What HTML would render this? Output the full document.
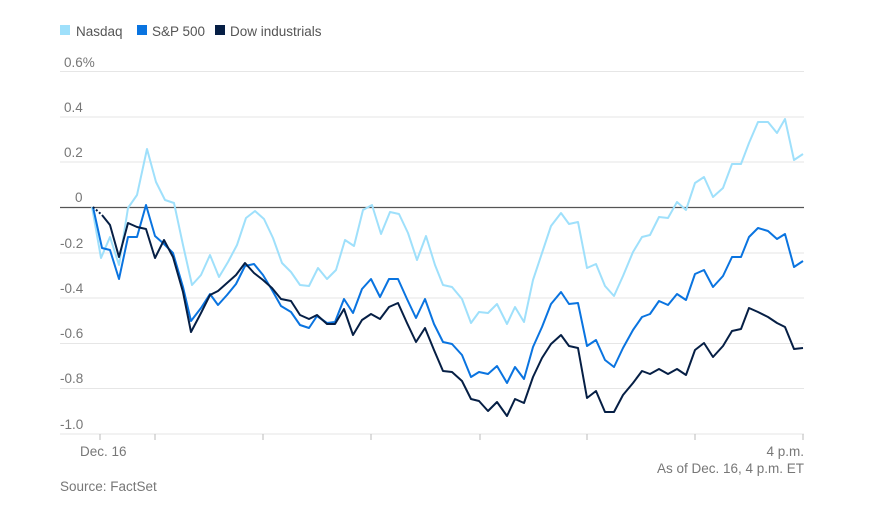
<!DOCTYPE html>
<html><head><style>
body{margin:0;background:#fff;font-family:"Liberation Sans",sans-serif;}
</style></head><body>
<svg width="884" height="503" xmlns="http://www.w3.org/2000/svg" font-family="Liberation Sans, sans-serif">
<rect width="884" height="503" fill="#fff"/>
<rect x="60" y="25" width="10" height="10" fill="#9fe0fb"/>
<text x="76" y="36" font-size="13.5" fill="#555">Nasdaq</text>
<rect x="137" y="25" width="10" height="10" fill="#0a74e0"/>
<text x="152" y="36" font-size="13.5" fill="#555">S&amp;P 500</text>
<rect x="215" y="25" width="10" height="10" fill="#061f45"/>
<text x="230" y="36" font-size="13.5" fill="#555">Dow industrials</text>
<g stroke="#e6e6e6" stroke-width="1">
<line x1="60" x2="804" y1="71.5" y2="71.5"/>
<line x1="60" x2="804" y1="117" y2="117"/>
<line x1="60" x2="804" y1="162" y2="162"/>
<line x1="60" x2="804" y1="253" y2="253"/>
<line x1="60" x2="804" y1="298" y2="298"/>
<line x1="60" x2="804" y1="343.5" y2="343.5"/>
<line x1="60" x2="804" y1="388.5" y2="388.5"/>
<line x1="60" x2="804" y1="434" y2="434"/>
</g>
<g stroke="#bbb" stroke-width="1">
<line x1="100" x2="100" y1="434" y2="440"/><line x1="155" x2="155" y1="434" y2="440"/>
<line x1="263" x2="263" y1="434" y2="440"/><line x1="371" x2="371" y1="434" y2="440"/>
<line x1="480" x2="480" y1="434" y2="440"/><line x1="587" x2="587" y1="434" y2="440"/>
<line x1="695" x2="695" y1="434" y2="440"/><line x1="803" x2="803" y1="434" y2="440"/>
</g>
<g font-size="13.5" fill="#777">
<text x="64" y="67">0.6%</text>
<text x="64" y="112">0.4</text>
<text x="64" y="157">0.2</text>
<text x="75" y="202">0</text>
<text x="60" y="248">-0.2</text>
<text x="60" y="293">-0.4</text>
<text x="60" y="338">-0.6</text>
<text x="60" y="383">-0.8</text>
<text x="60" y="429">-1.0</text>
<text x="80" y="456">Dec. 16</text>
<text x="804" y="456" text-anchor="end">4 p.m.</text>
<text x="804" y="473" text-anchor="end">As of Dec. 16, 4 p.m. ET</text>
<text x="60" y="491">Source: FactSet</text>
</g>
<line x1="60" x2="804" y1="207.5" y2="207.5" stroke="#555" stroke-width="1.3"/>
<g fill="none" stroke-width="2" stroke-linejoin="round">
<polyline stroke="#9fe0fb" points="92,207 101,258 110,237 119,265 128,208 137,195 147,149 156,182 165,200 174,203 183,245 192,285 201,275 210,255 219,277 228,262 237,245 246,218 255,211 264,219 273,238 282,263 291,272 300,285 309,286 318,268 327,279 336,270 345,240 354,246 363,210 372,205 381,234 390,212 399,214 408,233 417,260 426,236 435,265 443,285 452,287 462,299 471,323 479,312 488,313 497,304 507,324 515,307 524,322 533,280 542,253 551,226 561,213 569,224 578,222 587,268 596,264 605,286 614,296 623,276 633,252 642,237 650,235 659,217 668,218 677,202 686,210 695,183 704,177 713,197 723,188 732,164 741,164 749,143 758,122 768,122 777,133 785,119 794,160 803,154"/>
<polyline stroke="#0a74e0" points="93,207 102,248 110,250 119,279 128,237 137,237 146,205 155,236 164,244 173,253 183,287 191,321 201,308 210,294 218,305 227,295 236,284 245,266 254,264 263,275 272,290 281,306 291,312 300,325 309,328 317,316 327,323 335,322 344,299 353,313 362,289 371,279 380,297 389,279 398,279 407,299 416,318 425,299 434,324 443,342 452,344 462,355 471,377 479,372 488,374 497,366 507,383 515,367 524,379 533,347 542,327 551,304 561,292 569,304 578,303 587,346 596,340 605,360 614,367 623,348 633,330 642,317 650,314 659,301 668,305 677,294 686,300 695,274 704,270 713,287 723,276 732,257 741,257 749,237 758,228 768,231 777,239 785,234 794,267 803,261"/>
<polyline stroke="#061f45" stroke-dasharray="2,2" points="93,207 102,215"/>
<polyline stroke="#061f45" points="102,215 110,225 119,257 128,223 137,227 146,229 155,258 164,240 173,257 183,292 191,332 201,313 210,295 218,291 227,283 236,275 245,263 254,273 263,280 272,288 281,299 291,301 300,315 309,319 317,315 327,324 335,324 344,309 353,335 362,320 371,314 380,319 389,307 398,303 407,323 416,342 425,328 434,350 443,371 452,372 462,381 471,399 479,401 488,411 497,402 507,416 515,399 524,403 533,377 542,358 551,344 561,335 569,346 578,348 587,398 596,391 605,412 614,412 623,395 633,383 642,371 650,374 659,369 668,374 677,369 686,375 695,350 704,343 713,357 723,346 732,331 741,329 749,308 758,312 768,317 777,323 785,327 794,349 803,348"/>
</g>
</svg>
</body></html>
